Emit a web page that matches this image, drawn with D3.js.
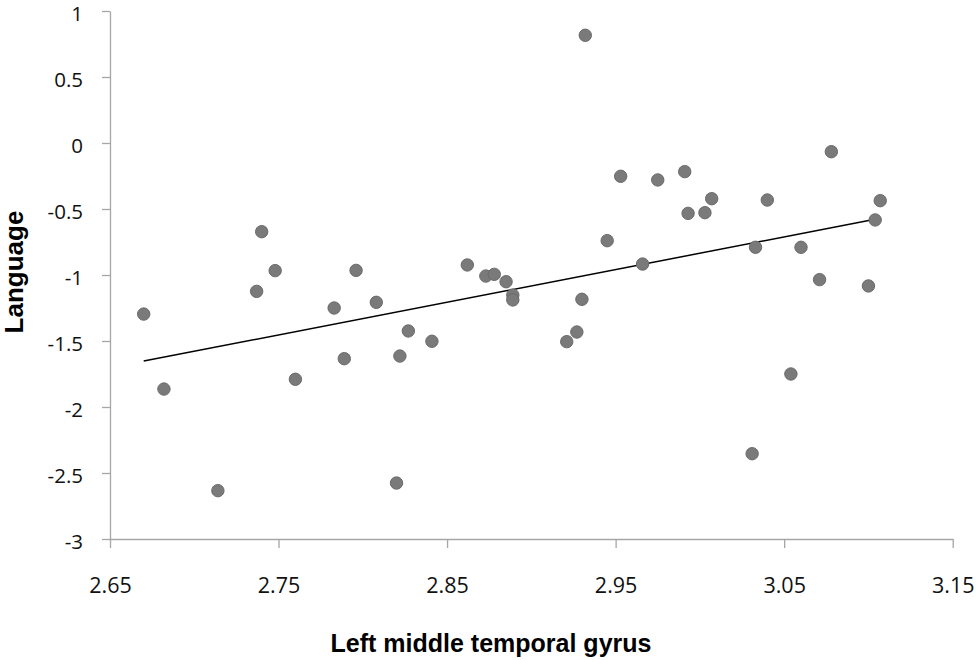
<!DOCTYPE html>
<html>
<head>
<meta charset="utf-8">
<script src="https://cdn.jsdelivr.net/npm/d3@7"></script>
<style>
  body { margin: 0; background: #fff; }
  .axis path, .axis line { stroke: #a6a6a6; stroke-width: 1.3; }
  .axis text { font-family: "Open Sans", sans-serif; fill: #111; }
  .title { font-family: "Liberation Sans", Arial, sans-serif; font-weight: bold; fill: #000; }
</style>
</head>
<body>
<div id="chart"></div>
<script>
// Left middle temporal gyrus (x) vs Language (y)
var gyrus = [2.670, 2.682, 2.714, 2.737, 2.740, 2.748, 2.760, 2.783, 2.789, 2.796,
             2.808, 2.820, 2.822, 2.827, 2.841, 2.862, 2.873, 2.878, 2.885, 2.889,
             2.889, 2.921, 2.927, 2.930, 2.932, 2.945, 2.953, 2.966, 2.975, 2.991,
             2.993, 3.003, 3.007, 3.031, 3.033, 3.040, 3.054, 3.060, 3.071, 3.078,
             3.100, 3.104, 3.107];
var language = [-1.296, -1.864, -2.634, -1.124, -0.672, -0.967, -1.790, -1.250, -1.634, -0.965,
                -1.207, -2.576, -1.614, -1.424, -1.502, -0.924, -1.008, -0.995, -1.051, -1.152,
                -1.189, -1.505, -1.432, -1.184, 0.816, -0.740, -0.252, -0.917, -0.280, -0.217,
                -0.533, -0.528, -0.422, -2.354, -0.790, -0.432, -1.750, -0.790, -1.035, -0.066,
                -1.083, -0.583, -0.437];

// linear trend line end points
var trend_x = [2.670, 3.107];
var trend_y = [-1.652, -0.570];

var x_ticks = [2.65, 2.75, 2.85, 2.95, 3.05, 3.15];
var y_ticks = [-3, -2.5, -2, -1.5, -1, -0.5, 0, 0.5, 1];

var chart_width = 976;
var chart_height = 660;

var svg = d3.select('#chart')
    .append('svg')
    .attr('width', chart_width)
    .attr('height', chart_height);

// Scales
var x_scale = d3.scaleLinear()
    .domain([2.65, 3.15])
    .range([110, 952.7]);

var y_scale = d3.scaleLinear()
    .domain([-3, 1])
    .range([539, 11]);

// Axes
var x_axis = d3.axisBottom(x_scale)
    .tickValues(x_ticks)
    .tickFormat(function(d) { return d3.format('.2f')(d); })
    .tickSize(9)
    .tickSizeOuter(0)
    .tickPadding(30);

var y_axis = d3.axisLeft(y_scale)
    .tickValues(y_ticks)
    .tickFormat(function(d) { return d; })
    .tickSize(8)
    .tickSizeOuter(0)
    .tickPadding(19);

svg.append('g')
    .attr('class', 'axis x-axis')
    .attr('transform', 'translate(0,' + y_scale(-3) + ')')
    .call(x_axis)
    .selectAll('text')
    .attr('font-size', 21.5);

svg.append('g')
    .attr('class', 'axis y-axis')
    .attr('transform', 'translate(' + x_scale(2.65) + ',0)')
    .call(y_axis)
    .selectAll('text')
    .attr('font-size', 20.5)
    .attr('dy', '0.45em');

// Trend line
svg.append('line')
    .attr('x1', x_scale(trend_x[0]))
    .attr('y1', y_scale(trend_y[0]))
    .attr('x2', x_scale(trend_x[1]))
    .attr('y2', y_scale(trend_y[1]))
    .attr('stroke', '#000')
    .attr('stroke-width', 1.5);

// Points
svg.selectAll('circle')
    .data(gyrus)
    .enter()
    .append('circle')
    .attr('cx', function(d) {
        return x_scale(d);
    })
    .attr('cy', function(d, i) {
        return y_scale(language[i]);
    })
    .attr('r', 6.2)
    .attr('fill', '#7a7a7a')
    .attr('stroke', '#6a6a6a')
    .attr('stroke-width', 1);

// Axis titles
svg.append('text')
    .attr('class', 'title')
    .attr('x', 491)
    .attr('y', 652)
    .attr('text-anchor', 'middle')
    .attr('font-size', 25)
    .text('Left middle temporal gyrus');

svg.append('text')
    .attr('class', 'title')
    .attr('transform', 'translate(23,272) rotate(-90)')
    .attr('text-anchor', 'middle')
    .attr('font-size', 26)
    .text('Language');
</script>
</body>
</html>
